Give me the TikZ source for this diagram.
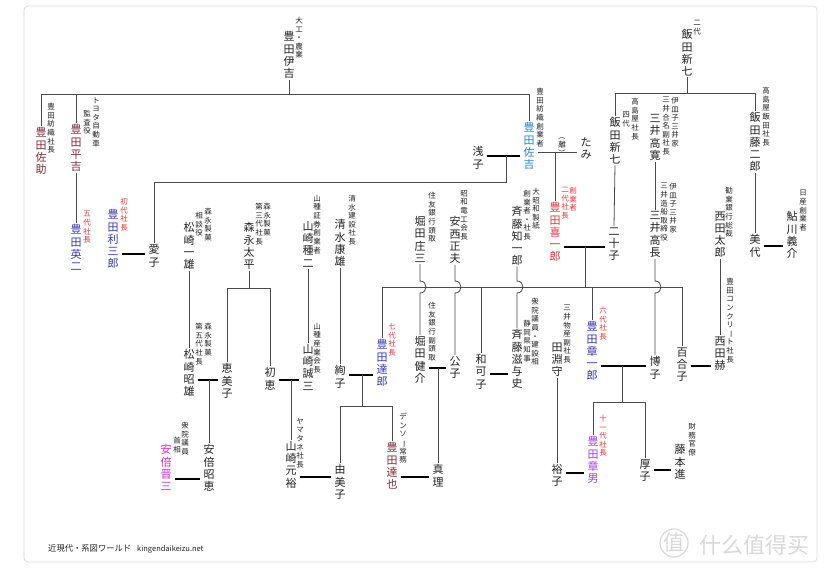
\documentclass[tikz,border=0pt]{standalone}
\usepackage{fontspec}
\usepackage{graphicx}
\setmainfont{Noto Sans CJK JP}
\newfontfamily\scfont{Noto Sans CJK SC}
\definecolor{ink}{HTML}{222222}
\definecolor{maroon}{HTML}{7A2C3C}
\definecolor{tblue}{HTML}{3838B8}
\definecolor{sblue}{HTML}{2A86C8}
\definecolor{tred}{HTML}{E8343A}
\definecolor{magen}{HTML}{D42AC8}
\definecolor{purp}{HTML}{A43CE6}
\definecolor{ln}{HTML}{4A4A4A}
\definecolor{frame}{HTML}{DCDCDC}
\definecolor{wm}{HTML}{D9D9D9}
\def\vtl#1{\ifx\relax#1\else\hbox to 1em{\hss#1\hss}\expandafter\vtl\fi}
\newcommand\vt[1]{\vbox{\baselineskip=1.1em\lineskiplimit=-50pt\lineskip=0pt\vtl#1\relax}}
\newcommand\va[1]{\vbox{\baselineskip=1.15em\lineskiplimit=-50pt\lineskip=0pt\vtl#1\relax}}
\newcommand\vbar{\rotatebox[origin=c]{-90}{ー}}
\newcommand\vlp{\rotatebox[origin=c]{-90}{（}}
\newcommand\vrp{\rotatebox[origin=c]{-90}{）}}
\begin{document}
\begin{tikzpicture}[x=1pt,y=-1pt,
 nm/.style={anchor=north,inner xsep=3pt,inner ysep=1.5pt,yshift=2pt,font=\fontsize{11}{12}\selectfont,text=ink},
 an/.style={anchor=north,inner sep=0pt,font=\fontsize{7.5}{8}\selectfont,text=ink},
 ra/.style={an,text=tred},
 desc/.style={draw=ln,line width=0.8pt},
 marr/.style={draw=black,line width=1.6pt}]
\useasboundingbox (0,0) rectangle (826,569);
\fill[white] (0,0) rectangle (826,569);
\draw[draw=frame,line width=0.8pt,rounded corners=4pt] (24,6) rectangle (817,562);
% generation 1-2
\node[nm] (iyoshi) at (289,32) {\vt{豊田伊吉}};
\node[an] (iyoshiA) at (299,17) {\va{大工・農業}};
\node[nm,text=maroon] (sasuke) at (41,128) {\vt{豊田佐助}};
\node[an] (sasukeA) at (51,103) {\va{豊田紡織社長}};
\node[nm,text=maroon] (heikichi) at (76,125) {\vt{豊田平吉}};
\node[an] (heikichiA) at (96,97) {\va{トヨタ自動車}};
\node[an] (heikichiB) at (87,110) {\va{監査役}};
\node[nm,text=tblue] (eiji) at (76,225) {\vt{豊田英二}};
\node[ra] (eijiA) at (87,211) {\va{五代社長}};
\node[nm,text=tblue] (risaburo) at (113,210) {\vt{豊田利三郎}};
\node[ra] (risaburoA) at (124,198) {\va{初代社長}};
\node[nm] (aiko) at (154,245) {\vt{愛子}};
\node[nm] (asako) at (478,147) {\vt{浅子}};
\node[nm,text=sblue] (sakichi) at (529,123) {\vt{豊田佐吉}};
\node[an] (sakichiA) at (540,88) {\va{豊田紡織創業者}};
\node[nm] (tami) at (586,138) {\vt{たみ}};
\node[an] (tamiA) at (562,132) {\va{\vlp 離\vrp}};
\node[nm,text=tred] (kiichiro) at (555,203) {\vt{豊田喜一郎}};
\node[ra] (kiichiroA) at (573,187) {\va{創業者}};
\node[ra] (kiichiroB) at (565,187) {\va{二代社長}};
\node[nm] (hatsuko) at (614,228) {\vt{二十子}};
% Iida / Mitsui
\node[nm] (shin2) at (687,30) {\vt{飯田新七}};
\node[an] (shin2A) at (697,20) {\va{二代}};
\node[nm] (shin4) at (615,118) {\vt{飯田新七}};
\node[an] (shin4A) at (635,98) {\va{高島屋社長}};
\node[an] (shin4B) at (626,112) {\va{四代}};
\node[nm] (takahiro) at (655,115) {\vt{三井高寛}};
\node[an] (takahiroA) at (675,97) {\va{伊皿子三井家}};
\node[an] (takahiroB) at (666,97) {\va{三井合名副社長}};
\node[nm] (tojiro) at (755,113) {\vt{飯田藤二郎}};
\node[an] (tojiroA) at (766,87) {\va{高島屋飯田社長}};
\node[nm] (takanaga) at (655,212) {\vt{三井高長}};
\node[an] (takanagaA) at (673,183) {\va{伊皿子三井家}};
\node[an] (takanagaB) at (664,183) {\va{三井造船取締役}};
\node[nm] (taro) at (720,212) {\vt{西田太郎}};
\node[an] (taroA) at (729,187) {\va{勧業銀行総裁}};
\node[nm] (miyo) at (755,235) {\vt{美代}};
\node[nm] (ayukawa) at (792,212) {\vt{鮎川義介}};
\node[an] (ayukawaA) at (803,190) {\va{日産創業者}};
% middle row
\node[nm] (kazuo) at (189,223) {\vt{松崎一雄}};
\node[an] (kazuoA) at (208,208) {\va{森永製菓}};
\node[an] (kazuoB) at (199,212) {\va{相談役}};
\node[nm] (taihei) at (249,223) {\vt{森永太平}};
\node[an] (taiheiA) at (267,203) {\va{森永製菓}};
\node[an] (taiheiB) at (259,203) {\va{第三代社長}};
\node[nm] (taneji) at (308,222) {\vt{山崎種二}};
\node[an] (tanejiA) at (317,195) {\va{山種証券創業者}};
\node[nm] (yasuo) at (340,220) {\vt{清水康雄}};
\node[an] (yasuoA) at (352,195) {\va{清水建設社長}};
\node[nm] (shozo) at (420,217) {\vt{堀田庄三}};
\node[an] (shozoA) at (432,192) {\va{住友銀行頭取}};
\node[nm] (masao) at (455,217) {\vt{安西正夫}};
\node[an] (masaoA) at (464,190) {\va{昭和電工会長}};
\node[nm] (tomo) at (517,207) {\vt{斉藤知一郎}};
\node[an] (tomoA) at (536,188) {\va{大昭和製紙}};
\node[an] (tomoB) at (527,190) {\va{創業者・社長}};
% third row
\node[nm] (akio) at (189,350) {\vt{松崎昭雄}};
\node[an] (akioA) at (208,323) {\va{森永製菓}};
\node[an] (akioB) at (199,323) {\va{第五代社長}};
\node[nm] (emiko) at (227,364) {\vt{恵美子}};
\node[nm] (hatsue) at (270,368) {\vt{初恵}};
\node[nm] (seizo) at (308,345) {\vt{山崎誠三}};
\node[an] (seizoA) at (317,323) {\va{山種産業会長}};
\node[nm] (junko) at (340,366) {\vt{絢子}};
\node[nm,text=tblue] (tatsuro) at (382,340) {\vt{豊田達郎}};
\node[ra] (tatsuroA) at (392,323) {\va{七代社長}};
\node[nm] (kensuke) at (420,337) {\vt{堀田健介}};
\node[an] (kensukeA) at (432,302) {\va{住友銀行副頭取}};
\node[nm] (kimiko) at (455,357) {\vt{公子}};
\node[nm] (wakako) at (481,355) {\vt{和可子}};
\node[nm] (shige) at (517,330) {\vt{斉藤滋与史}};
\node[an] (shigeA) at (535,298) {\va{衆院議員・建設相}};
\node[an] (shigeB) at (527,320) {\va{静岡県知事}};
\node[nm] (mamoru) at (557,343) {\vt{田淵守}};
\node[an] (mamoruA) at (567,305) {\va{三井物産副社長}};
\node[nm,text=tblue] (shoichiro) at (592,322) {\vt{豊田章一郎}};
\node[ra] (shoichiroA) at (603,307) {\va{六代社長}};
\node[nm] (hiroko) at (655,357) {\vt{博子}};
\node[nm] (yuriko) at (682,348) {\vt{百合子}};
\node[nm] (kaku) at (720,337) {\vt{西田赫}};
\node[an] (kakuA) at (730,278) {\va{豊田コンクリ\vbar ト社長}};
% fourth row
\node[nm] (akie) at (209,445) {\vt{安倍昭恵}};
\node[nm,text=magen] (shinzo) at (166,445) {\vt{安倍晋三}};
\node[an] (shinzoA) at (185,422) {\va{衆院議員}};
\node[an] (shinzoB) at (177,437) {\va{首相}};
\node[nm] (motohiro) at (291,442) {\vt{山崎元裕}};
\node[an] (motohiroA) at (300,418) {\va{ヤマタネ社長}};
\node[nm] (yumiko) at (340,465) {\vt{由美子}};
\node[nm,text=maroon] (tatsuya) at (392,443) {\vt{豊田達也}};
\node[an] (tatsuyaA) at (403,413) {\va{デンソ\vbar 常務}};
\node[nm] (mari) at (438,465) {\vt{真理}};
\node[nm] (yuko) at (557,465) {\vt{裕子}};
\node[nm,text=purp] (akio2) at (593,437) {\vt{豊田章男}};
\node[ra] (akio2A) at (603,415) {\va{十一代社長}};
\node[nm] (atsuko) at (645,460) {\vt{厚子}};
\node[nm] (fujimoto) at (680,445) {\vt{藤本進}};
\node[an] (fujimotoA) at (692,423) {\va{財務官僚}};
% connectors: Toyota top
\coordinate (g1) at (0,94);
\draw[desc] (iyoshi.south) -- (iyoshi.south |- g1);
\draw[desc] (sasuke.north) -- (sasuke.north |- g1) -- (sakichi.north |- g1) -- (sakichi.north);
\draw[desc] (heikichi.north) -- (heikichi.north |- g1);
\draw[desc] (heikichi.south) -- (eiji.north);
\coordinate (mr) at (0,254);
\draw[marr] (risaburo.east |- mr) -- (aiko.west |- mr);
\coordinate (ms) at (506,156);
\draw[marr] (asako.east |- ms) -- (sakichi.west |- ms);
\coordinate (ga) at (0,182);
\draw[desc] (ms) -- (ms |- ga) -- (aiko.north |- ga) -- (aiko.north);
\coordinate (mt) at (0,152);
\draw[desc] (sakichi.east |- mt) -- (tami.west |- mt);
\draw[desc] (kiichiro.north |- mt) -- (kiichiro.north);
\coordinate (mk) at (585,247);
\draw[marr] (kiichiro.east |- mk) -- (hatsuko.west |- mk);
\draw[desc] (shin4.south) -- (hatsuko.north);
% Iida
\coordinate (gi) at (0,93);
\draw[desc] (shin2.south) -- (shin2.south |- gi);
\draw[desc] (shin4.north) -- (shin4.north |- gi) -- (tojiro.north |- gi) -- (tojiro.north);
\draw[desc] (takahiro.south) -- (takanaga.north);
\draw[desc] (tojiro.south) -- (miyo.north);
\coordinate (my) at (0,246);
\draw[marr] (miyo.east |- my) -- (ayukawa.west |- my);
\draw[desc] (taro.south) -- (kaku.north);
% children of Kiichiro
\coordinate (gk) at (0,287);
\draw[desc] (mk) -- (mk |- gk);
\draw[desc] (tatsuro.north) -- (tatsuro.north |- gk) -- (yuriko.north |- gk) -- (yuriko.north);
\draw[desc] (wakako.north |- gk) -- (wakako.north);
\draw[desc] (shoichiro.north |- gk) -- (shoichiro.north);
% line hops
\coordinate (bt) at (0,281);
\coordinate (bb) at (0,293);
\draw[desc] (shozo.south) -- (shozo.south |- bt) .. controls +(8,0) and +(8,0) .. (shozo.south |- bb) -- (kensuke.north);
\draw[desc] (masao.south) -- (masao.south |- bt) .. controls +(8,0) and +(8,0) .. (masao.south |- bb) -- (kimiko.north);
\draw[desc] (tomo.south) -- (tomo.south |- bt) .. controls +(8,0) and +(8,0) .. (tomo.south |- bb) -- (shige.north);
\draw[desc] (takanaga.south) -- (takanaga.south |- bt) .. controls +(8,0) and +(8,0) .. (takanaga.south |- bb) -- (hiroko.north);
% Morinaga etc.
\coordinate (gm) at (0,288);
\draw[desc] (taihei.south) -- (taihei.south |- gm);
\draw[desc] (emiko.north) -- (emiko.north |- gm) -- (hatsue.north |- gm) -- (hatsue.north);
\draw[desc] (kazuo.south) -- (akio.north);
\draw[desc] (taneji.south) -- (seizo.north);
\draw[desc] (yasuo.south) -- (junko.north);
% third-row marriages
\coordinate (ma) at (209,380);
\draw[marr] (akio.east |- ma) -- (emiko.west |- ma);
\draw[desc] (ma) -- (akie.north);
\coordinate (mh) at (291,380);
\draw[marr] (hatsue.east |- mh) -- (seizo.west |- mh);
\draw[desc] (mh) -- (motohiro.north);
\coordinate (mj) at (362,375);
\draw[marr] (junko.east |- mj) -- (tatsuro.west |- mj);
\coordinate (gt) at (0,406);
\draw[desc] (mj) -- (mj |- gt);
\draw[desc] (yumiko.north) -- (yumiko.north |- gt) -- (tatsuya.north |- gt) -- (tatsuya.north);
\coordinate (mkk) at (438,368);
\draw[marr] (kensuke.east |- mkk) -- (kimiko.west |- mkk);
\draw[desc] (mkk) -- (mari.north);
\coordinate (mw) at (0,374);
\draw[marr] (wakako.east |- mw) -- (shige.west |- mw);
\draw[desc] (mamoru.south) -- (yuko.north);
\coordinate (msh) at (622,366);
\draw[marr] (shoichiro.east |- msh) -- (hiroko.west |- msh);
\coordinate (gs) at (0,402);
\draw[desc] (msh) -- (msh |- gs);
\draw[desc] (akio2.north) -- (akio2.north |- gs) -- (atsuko.north |- gs) -- (atsuko.north);
\coordinate (myu) at (0,366);
\draw[marr] (yuriko.east |- myu) -- (kaku.west |- myu);
% fourth-row marriages
\coordinate (m4a) at (0,479);
\draw[marr] (shinzo.east |- m4a) -- (akie.west |- m4a);
\coordinate (m4b) at (0,477);
\draw[marr] (motohiro.east |- m4b) -- (yumiko.west |- m4b);
\draw[marr] (tatsuya.east |- m4b) -- (mari.west |- m4b);
\coordinate (m4c) at (0,473);
\draw[marr] (yuko.east |- m4c) -- (akio2.west |- m4c);
\coordinate (m4d) at (0,470);
\draw[marr] (atsuko.east |- m4d) -- (fujimoto.west |- m4d);
% footer and watermark
\node[anchor=west,inner sep=0pt,font=\fontsize{8.3}{9}\selectfont,text=ink] (foot) at (48,549) {近現代・系図ワールド\hspace{6pt}{\fontsize{7.5}{9}\selectfont kingendaikeizu.net}};
\node[font=\scfont\fontsize{21}{24}\selectfont,text=wm] (wm1) at (674,543) {值};
\draw[draw=wm,line width=1.2pt] (wm1.center) circle (14);
\node[anchor=west,inner sep=0pt,font=\scfont\fontsize{22}{24}\selectfont,text=wm] (wm2) at (699,545) {什么值得买};
\end{tikzpicture}
\end{document}
